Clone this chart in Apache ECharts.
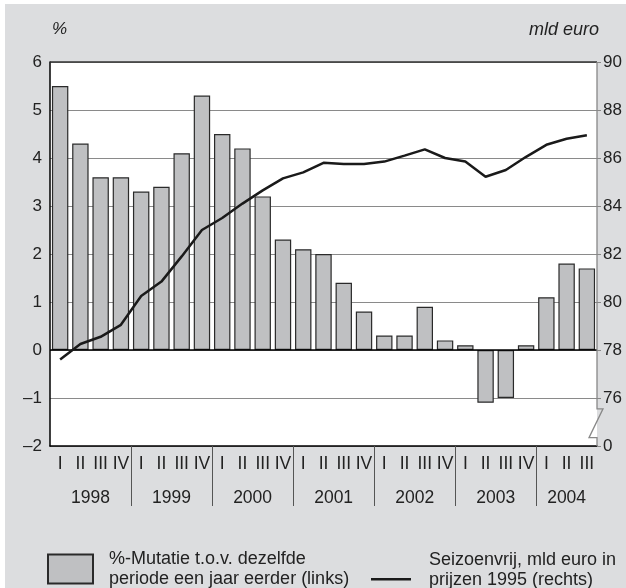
<!DOCTYPE html>
<html><head><meta charset="utf-8">
<script src="https://cdn.jsdelivr.net/npm/echarts@6/dist/echarts.min.js"></script>
<style>
html,body{margin:0;padding:0;background:#fff;width:626px;height:588px;overflow:hidden}
#c{position:absolute;left:5px;top:4px;width:621px;height:584px;background:#dcdddf}
</style></head>
<body><div id="c"></div>
<script>
// ---- data ----
const quarterLabels = ['I','II','III','IV','I','II','III','IV','I','II','III','IV','I','II','III','IV','I','II','III','IV','I','II','III','IV','I','II','III'];
const years = ['1998','1999','2000','2001','2002','2003','2004'];
const quartersPerYear = [4,4,4,4,4,4,3];
const mutatie = [5.5,4.3,3.6,3.6, 3.3,3.4,4.1,5.3, 4.5,4.2,3.2,2.3, 2.1,2.0,1.4,0.8, 0.3,0.3,0.9,0.2, 0.1,-1.1,-1.0,0.1, 1.1,1.8,1.7];
const volume = [77.6,78.25,78.55,79.05, 80.25,80.85,81.9,83.0, 83.5,84.1,84.65,85.15, 85.4,85.8,85.75,85.75, 85.85,86.1,86.36,86.0, 85.85,85.22,85.5,86.05, 86.55,86.8,86.95];
const barName = '%-Mutatie t.o.v. dezelfde\nperiode een jaar eerder (links)';
const lineName = 'Seizoenvrij, mld euro in\nprijzen 1995 (rechts)';

const FONT = "'Liberation Sans', Arial, sans-serif";
const yearAt = {};
const yearBounds = [];
let acc = 0;
quartersPerYear.forEach((n, i) => {
  yearAt[acc + n / 2] = years[i];
  acc += n;
  if (i < quartersPerYear.length - 1) yearBounds.push(acc);
});

const chart = echarts.init(document.getElementById('c'), null, {renderer: 'canvas'});
const option = {
  animation: false,
  textStyle: {fontFamily: FONT},
  grid: {left: 45, top: 58, right: 29, bottom: 142, show: true, backgroundColor: '#fff', borderWidth: 0},
  legend: [
    {data: [barName], left: 37, top: 536, itemWidth: 45, itemHeight: 29, icon: 'rect', selectedMode: false,
     textStyle: {fontFamily: FONT, fontSize: 18, lineHeight: 20, color: '#222', padding: [0,0,8,11]}},
    {data: [{name: lineName, icon: 'path://M0,0h0.01v0.01h-0.01z M0,23h40v2.4h-40z M40,30h0.01v0.01h-0.01z'}], left: 361, top: 541,
     itemWidth: 40, itemHeight: 30, selectedMode: false,
     textStyle: {fontFamily: FONT, fontSize: 18, lineHeight: 20, color: '#222', padding: [0,0,0,13]}}
  ],
  xAxis: [
    {type: 'category', data: quarterLabels, boundaryGap: true,
     axisLine: {onZero: false, lineStyle: {color: '#000', width: 1.5}},
     axisTick: {show: false},
     axisLabel: {interval: 0, fontSize: 17.5, color: '#222', margin: 9, fontFamily: FONT},
     splitLine: {show: false}},
    {type: 'value', min: 0, max: 27, interval: 0.5, position: 'bottom',
     axisLine: {show: false, onZero: false}, axisTick: {show: false}, splitLine: {show: false},
     axisLabel: {fontSize: 17.5, color: '#222', margin: 43, fontFamily: FONT, formatter: (v) => yearAt[v] || ''}}
  ],
  yAxis: [
    {type: 'value', min: -2, max: 6, interval: 1,
     axisLine: {show: true, lineStyle: {color: '#000', width: 1.5}},
     axisTick: {show: false},
     axisLabel: {fontSize: 17, color: '#222', margin: 8, fontFamily: FONT, formatter: (v) => String(v).replace('-', '\u2013')},
     splitLine: {show: true, lineStyle: {color: '#8a8a8a', width: 1.2}}},
    {type: 'value', min: 74, max: 90, interval: 2, position: 'right',
     axisLine: {show: false},
     axisTick: {show: true, length: 4, lineStyle: {color: '#888'}},
     axisLabel: {fontSize: 17, color: '#222', margin: 6, fontFamily: FONT, formatter: (v) => v === 74 ? '0' : String(v)},
     splitLine: {show: false}}
  ],
  series: [
    {name: barName, type: 'bar', data: mutatie, xAxisIndex: 0, yAxisIndex: 0, barCategoryGap: '19%',
     itemStyle: {color: '#bfc0c2', borderColor: '#2a2a2a', borderWidth: 1.2},
     markLine: {silent: true, symbol: 'none', label: {show: false}, animation: false,
       lineStyle: {color: '#000', width: 1.5, type: 'solid'}, data: [{yAxis: 0}]}},
    {name: lineName, type: 'line', data: volume, xAxisIndex: 0, yAxisIndex: 1, showSymbol: false,
     color: '#1a1a1a', lineStyle: {color: '#1a1a1a', width: 2.5}, z: 5}
  ]
};
chart.setOption(option);

// decorations: unit labels, top border, year separators, right axis with break
const gx0 = 45, gx1 = 621 - 29, gy0 = 58;
const yR = (v) => chart.convertToPixel({yAxisIndex: 1}, v);
const yBottom = yR(74);
const xr = gx1;
const brkTop = yR(75.55), brkBot = yR(74.35);
const separators = yearBounds.map((b) => {
  const x = Math.round(chart.convertToPixel({xAxisIndex: 1}, b)) + 0.5;
  return {type: 'line', shape: {x1: x, y1: yBottom, x2: x, y2: yBottom + 60}, style: {stroke: '#555', lineWidth: 1}, z: 10};
});
chart.setOption({
  graphic: [
    {type: 'text', left: 47, top: 17, style: {text: '%', font: 'italic 17px ' + FONT, fill: '#222'}},
    {type: 'text', right: 27, top: 17, style: {text: 'mld euro', font: 'italic 18px ' + FONT, fill: '#222'}},
    {type: 'line', shape: {x1: gx0, y1: gy0, x2: gx1, y2: gy0}, style: {stroke: '#333', lineWidth: 1.3}, z: 10},
    {type: 'polyline', shape: {points: [[xr, gy0], [xr, brkTop], [xr + 6, brkTop], [xr - 8, brkBot], [xr, brkBot], [xr, yBottom]]},
     style: {stroke: '#888', lineWidth: 1.3, fill: null}, z: 10}
  ].concat(separators)
});
</script></body></html>
